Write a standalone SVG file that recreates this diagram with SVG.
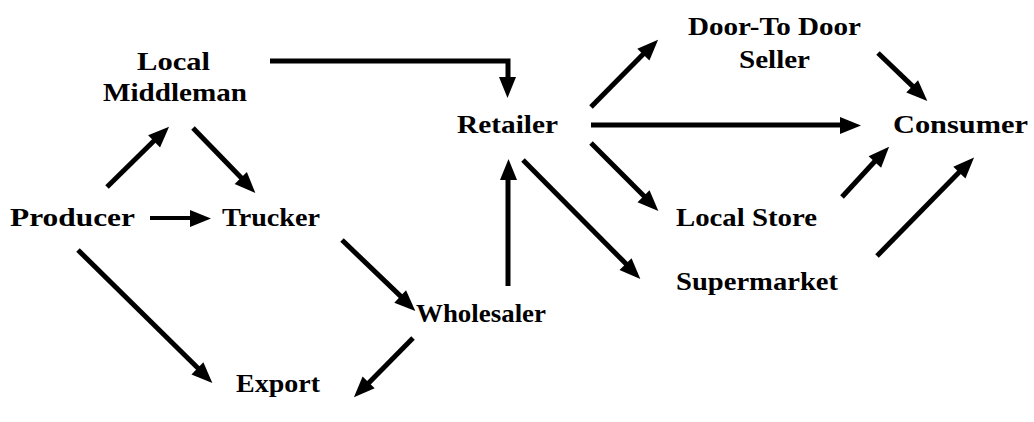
<svg xmlns="http://www.w3.org/2000/svg" width="1034" height="422" viewBox="0 0 1034 422">
<style>
text{font-family:"Liberation Serif","DejaVu Serif",serif;font-weight:700;font-size:26px;fill:#000}
.c{stroke:#000;stroke-width:5;fill:none;marker-end:url(#ah)}
</style>
<defs>
<marker id="ah" markerUnits="userSpaceOnUse" markerWidth="20" markerHeight="16" refX="4" refY="8" orient="auto" overflow="visible">
<path d="M0,0 L21,8.5 L0,17 z" fill="#000"/>
</marker>
</defs>
<rect width="1034" height="422" fill="#fff"/>
<g id="connectors">
<line class="c" x1="107" y1="187" x2="156.6" y2="138.2"/>
<line class="c" x1="193" y1="128" x2="243.9" y2="180.5"/>
<line class="c" x1="150" y1="218" x2="194" y2="218" style="stroke-width:4"/>
<line class="c" x1="78" y1="250" x2="200.6" y2="370.8"/>
<line class="c" x1="342" y1="240" x2="403.4" y2="298.9"/>
<line class="c" x1="413" y1="338" x2="366.2" y2="385.6"/>
<line class="c" x1="508" y1="286" x2="508" y2="176"/>
<polyline class="c" points="270,61 508,61 508,81"/>
<line class="c" x1="591" y1="107" x2="645.8" y2="51.4"/>
<line class="c" x1="591" y1="125" x2="844" y2="125"/>
<line class="c" x1="591" y1="143" x2="646.7" y2="198.7"/>
<line class="c" x1="523" y1="160" x2="628.7" y2="266.6"/>
<line class="c" x1="878" y1="53" x2="915.4" y2="88.9"/>
<line class="c" x1="842" y1="197" x2="877.2" y2="158.8"/>
<line class="c" x1="877" y1="256" x2="961.8" y2="169.4"/>
</g>
<g id="local-middleman">
<text x="137" y="70" textLength="73" lengthAdjust="spacingAndGlyphs">Local</text>
<text x="103" y="101" textLength="144" lengthAdjust="spacingAndGlyphs">Middleman</text>
</g>
<g id="producer"><text x="10" y="226" textLength="125" lengthAdjust="spacingAndGlyphs">Producer</text></g>
<g id="trucker"><text x="222" y="226" textLength="98" lengthAdjust="spacingAndGlyphs">Trucker</text></g>
<g id="retailer"><text x="457" y="133" textLength="101" lengthAdjust="spacingAndGlyphs">Retailer</text></g>
<g id="wholesaler"><text x="416" y="322" textLength="130" lengthAdjust="spacingAndGlyphs">Wholesaler</text></g>
<g id="export"><text x="236" y="392" textLength="84" lengthAdjust="spacingAndGlyphs">Export</text></g>
<g id="door-to-door-seller">
<text x="688" y="35" textLength="173" lengthAdjust="spacingAndGlyphs">Door-To Door</text>
<text x="739" y="68" textLength="71" lengthAdjust="spacingAndGlyphs">Seller</text>
</g>
<g id="consumer"><text x="893" y="133" textLength="135" lengthAdjust="spacingAndGlyphs">Consumer</text></g>
<g id="local-store"><text x="676" y="226" textLength="141" lengthAdjust="spacingAndGlyphs">Local Store</text></g>
<g id="supermarket"><text x="676" y="290" textLength="162" lengthAdjust="spacingAndGlyphs">Supermarket</text></g>
</svg>
